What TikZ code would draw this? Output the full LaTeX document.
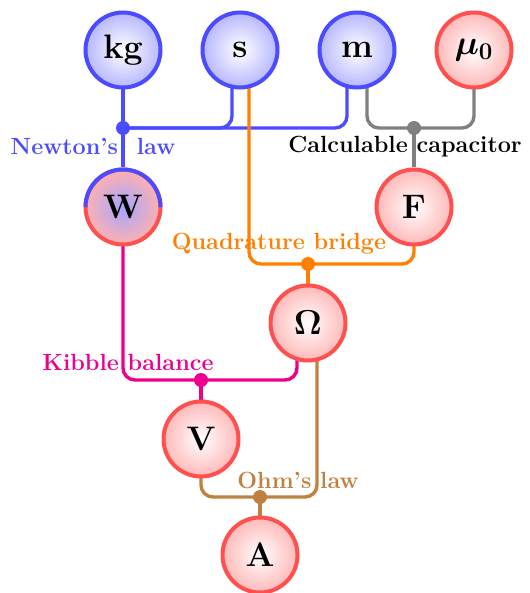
\documentclass[tikz,border=0pt]{standalone}
\usepackage{amsmath, amssymb}
\usepackage{bm}
\usepackage{xcolor}
\usetikzlibrary{calc, backgrounds}
\definecolor{unitblue}{RGB}{75,75,255}
\definecolor{unitred}{RGB}{255,80,80}
\definecolor{kibblepink}{RGB}{236,0,140}
\definecolor{ohmbrown}{RGB}{192,128,64}
\definecolor{quadorange}{RGB}{255,128,0}

\begin{document}
\begin{tikzpicture}[x=0.5pt, y=-0.5pt,
    unit/.style={circle, minimum size=37.5pt, inner sep=0pt, line width=2pt,
        font=\fontsize{17}{19}\selectfont\bfseries},
    siunit/.style={unit, draw=unitblue, inner color=white, outer color=unitblue!40},
    derived/.style={unit, draw=unitred, inner color=white, outer color=unitred!40},
    link/.style={line width=1.7pt, rounded corners=6pt},
    law/.style={font=\fontsize{11.7}{13}\selectfont\bfseries, inner sep=1pt}]

    \useasboundingbox (0,0) rectangle (529,593);

    % Base units
    \node[siunit] (kg) at (123,50) {kg};
    \node[siunit] (s) at (240,50) {s};
    \node[siunit] (m) at (357,50) {m};
    \node[derived] (mu0) at (474,50) {$\bm{\mu_0}$};

    % Derived quantities
    \node[unit, draw=unitred, inner color=unitblue!50, outer color=unitred!45] (W) at (123,207) {W};
    \draw[unitblue, line width=2pt] ([xshift=18.75pt]W.center) arc[start angle=0, end angle=180, radius=18.75pt];
    \node[derived] (F) at (414,207) {F};
    \node[derived] (Om) at (308,323) {$\bm{\Omega}$};
    \node[derived] (V) at (201,439) {V};
    \node[derived] (A) at (260,555) {A};

    % Junctions
    \coordinate (newton) at (123,128);
    \coordinate (capa) at (414,128);
    \coordinate (quad) at (308,264);
    \coordinate (kibble) at (201,380);
    \coordinate (ohm) at (260,497);

    % Connections
    \begin{scope}[on background layer]
        \draw[link, unitblue] (kg) -- (newton) -- (W);
        \draw[link, unitblue] ($(s.center)+(-8,0)$) |- (newton);
        \draw[link, unitblue] ($(m.center)+(-10,0)$) |- (newton);

        \draw[link, gray] ($(m.center)+(10,0)$) |- (capa);
        \draw[link, gray] (mu0.center) |- (capa);
        \draw[link, gray] (capa) -- (F);

        \draw[link, quadorange] ($(s.center)+(9,0)$) |- (quad);
        \draw[link, quadorange] (F.center) |- (quad);
        \draw[link, quadorange] (quad) -- (Om);

        \draw[link, kibblepink] (W.center) |- (kibble);
        \draw[link, kibblepink] ($(Om.center)+(-11,0)$) |- (kibble);
        \draw[link, kibblepink] (kibble) -- (V);

        \draw[link, ohmbrown] (V.center) |- (ohm);
        \draw[link, ohmbrown] ($(Om.center)+(9,0)$) |- (ohm);
        \draw[link, ohmbrown] (ohm) -- (A);
    \end{scope}

    % Junction dots
    \fill[unitblue] (newton) circle (3.5pt);
    \fill[gray] (capa) circle (3.5pt);
    \fill[quadorange] (quad) circle (3.5pt);
    \fill[kibblepink] (kibble) circle (3.5pt);
    \fill[ohmbrown] (ohm) circle (3.5pt);

    % Labels
    \node[law, unitblue] (newtonlbl) at (93,146) {Newton's\hspace{5pt} law};
    \node[law, black] (capalbl) at (405,147) {Calculable capacitor};
    \node[law, quadorange] (quadlbl) at (279,244) {Quadrature bridge};
    \node[law, kibblepink] (kibblelbl) at (128,362) {Kibble balance};
    \node[law, ohmbrown] (ohmlbl) at (298,480) {Ohm's law};
\end{tikzpicture}
\end{document}
